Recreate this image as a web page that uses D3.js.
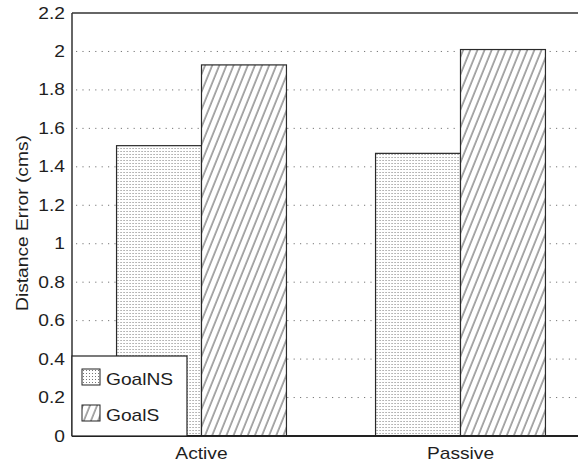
<!DOCTYPE html>
<html>
<head>
<meta charset="utf-8">
<script src="https://cdn.jsdelivr.net/npm/d3@7"></script>
<style>
  body { margin: 0; background: #fff; }
  text { font-family: "Liberation Sans", Arial, Helvetica, sans-serif; fill: #1e1e1e; }
</style>
</head>
<body>
<div id="chart"></div>
<script>
// Chart data
const categories = ['Active', 'Passive'];
const seriesNames = ['GoalNS', 'GoalS'];
const goalNS = [1.51, 1.47];
const goalS = [1.93, 2.01];
const yTicks = [0, 0.2, 0.4, 0.6, 0.8, 1, 1.2, 1.4, 1.6, 1.8, 2, 2.2];

const width = 578;
const height = 463;
const margin = { top: 13, right: -12, bottom: 27, left: 72 };
const stretch = 1.2; // the scanned font is wider than Arial

const svg = d3.select('#chart')
    .append('svg')
    .attr('width', width)
    .attr('height', height);

// Fill patterns
const defs = svg.append('defs');

const dots = defs.append('pattern')
    .attr('id', 'stipple')
    .attr('patternUnits', 'userSpaceOnUse')
    .attr('width', 3)
    .attr('height', 3);
dots.append('rect').attr('width', 3).attr('height', 3).attr('fill', '#fff');
dots.append('rect')
    .attr('x', 1).attr('y', 1)
    .attr('width', 1).attr('height', 1)
    .attr('fill', '#777');

const hatch = defs.append('pattern')
    .attr('id', 'hatch')
    .attr('patternUnits', 'userSpaceOnUse')
    .attr('width', 6.6)
    .attr('height', 10)
    .attr('patternTransform', 'rotate(22)');
hatch.append('rect').attr('width', 6.6).attr('height', 10).attr('fill', '#fff');
hatch.append('line')
    .attr('x1', 1).attr('y1', -1)
    .attr('x2', 1).attr('y2', 11)
    .attr('stroke', '#3c3c3c')
    .attr('stroke-width', 0.9);

const fills = { GoalNS: 'url(#stipple)', GoalS: 'url(#hatch)' };

// Scales
const x = d3.scaleBand()
    .domain(categories)
    .range([margin.left, width - margin.right])
    .paddingInner(0.344)
    .paddingOuter(0.172);

const xSub = d3.scaleBand()
    .domain(seriesNames)
    .range([0, x.bandwidth()]);

const y = d3.scaleLinear()
    .domain([0, 2.2])
    .range([height - margin.bottom, margin.top]);

// Dotted grid
svg.append('g')
    .selectAll('line')
    .data(yTicks.filter(t => t > 0 && t < 2.2))
    .join('line')
    .attr('x1', margin.left + 4)
    .attr('x2', width)
    .attr('y1', d => y(d))
    .attr('y2', d => y(d))
    .attr('stroke', '#777')
    .attr('stroke-width', 1)
    .attr('stroke-dasharray', '1.2,5.2');

// Bars
const rows = categories.map((c, i) => ({
    category: c,
    values: [
        { series: 'GoalNS', value: goalNS[i] },
        { series: 'GoalS', value: goalS[i] }
    ]
}));

svg.append('g')
    .selectAll('g')
    .data(rows)
    .join('g')
    .attr('transform', d => `translate(${x(d.category)},0)`)
    .selectAll('rect')
    .data(d => d.values)
    .join('rect')
    .attr('x', d => xSub(d.series))
    .attr('y', d => y(d.value))
    .attr('width', xSub.bandwidth())
    .attr('height', d => y(0) - y(d.value))
    .attr('fill', d => fills[d.series])
    .attr('stroke', '#2a2a2a')
    .attr('stroke-width', 1.2);

// Axis frame
svg.append('line')
    .attr('x1', margin.left).attr('x2', width)
    .attr('y1', y(2.2)).attr('y2', y(2.2))
    .attr('stroke', '#333').attr('stroke-width', 1.5);
svg.append('line')
    .attr('x1', margin.left).attr('x2', width)
    .attr('y1', y(0)).attr('y2', y(0))
    .attr('stroke', '#222').attr('stroke-width', 2);
svg.append('line')
    .attr('x1', margin.left).attr('x2', margin.left)
    .attr('y1', y(2.2)).attr('y2', y(0))
    .attr('stroke', '#333').attr('stroke-width', 1.5);

// Y tick labels
svg.append('g')
    .selectAll('text')
    .data(yTicks)
    .join('text')
    .attr('transform', d => `translate(65,${y(d) + 5.5}) scale(${stretch},1)`)
    .attr('text-anchor', 'end')
    .attr('font-size', 16)
    .text(d => d3.format('~g')(d));

// X labels
svg.append('g')
    .selectAll('text')
    .data(categories)
    .join('text')
    .attr('transform', d => `translate(${x(d) + x.bandwidth() / 2},459) scale(${stretch},1)`)
    .attr('text-anchor', 'middle')
    .attr('font-size', 16)
    .text(d => d);

// Y axis title
svg.append('text')
    .attr('transform', `translate(28,223) rotate(-90) scale(${stretch},1)`)
    .attr('text-anchor', 'middle')
    .attr('font-size', 16)
    .text('Distance Error (cms)');

// Legend
const legend = svg.append('g');
legend.append('rect')
    .attr('x', margin.left)
    .attr('y', 356)
    .attr('width', 115)
    .attr('height', y(0) - 356)
    .attr('fill', '#fff')
    .attr('stroke', '#222')
    .attr('stroke-width', 1.2);

const items = legend.selectAll('g')
    .data(seriesNames)
    .join('g')
    .attr('transform', (d, i) => `translate(82,${369 + i * 36})`);

items.append('rect')
    .attr('width', 18)
    .attr('height', 16)
    .attr('fill', d => fills[d])
    .attr('stroke', '#222')
    .attr('stroke-width', 1);

items.append('text')
    .attr('transform', `translate(24,16) scale(${stretch},1)`)
    .attr('font-size', 16)
    .text(d => d);
</script>
</body>
</html>
